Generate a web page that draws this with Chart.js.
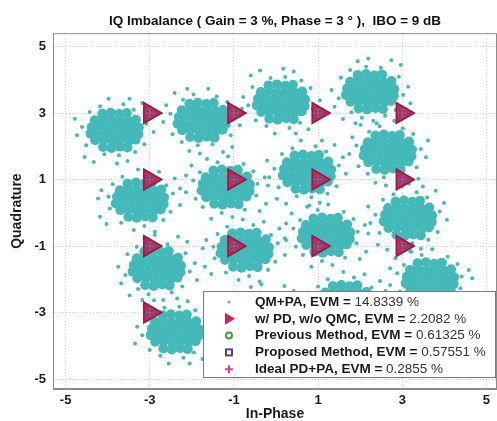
<!DOCTYPE html>
<html>
<head>
<meta charset="utf-8">
<script src="https://cdn.jsdelivr.net/npm/chart.js"></script>
<style>
  html, body { margin: 0; padding: 0; background: #fff; }
  #wrap { width: 497px; height: 421px; }
</style>
</head>
<body>
<div id="wrap"><canvas id="iq_chart" width="497" height="421"></canvas></div>
<script>
// tick positions shared by both axes
const tickValues = [-5, -3, -1, 1, 3, 5];

// ideal 16-QAM grid
const constellation = [
    [-3, 3], [-1, 3], [1, 3], [3, 3],
    [-3, 1], [-1, 1], [1, 1], [3, 1],
    [-3, -1], [-1, -1], [1, -1], [3, -1],
    [-3, -3], [-1, -3], [1, -3], [3, -3],
];

// QM+PA samples in the dense middle of each received cluster (one line per symbol)
const qmpaCore = [
    [-4.13,2.98],[-3.93,3.01],[-3.73,2.97],[-3.55,3.00],[-4.31,2.78],[-4.11,2.81],[-3.91,2.77],[-3.71,2.79],[-3.51,2.76],[-3.33,2.80],[-4.38,2.58],[-4.19,2.60],[-4.00,2.56],[-3.81,2.59],[-3.62,2.57],[-3.43,2.60],[-3.26,2.56],[-4.41,2.38],[-4.23,2.40],[-4.04,2.36],[-3.83,2.39],[-3.64,2.37],[-3.45,2.40],[-3.27,2.36],[-4.30,2.18],[-4.10,2.20],[-3.90,2.16],[-3.70,2.19],[-3.50,2.17],[-3.34,2.20],[-4.11,1.98],[-3.91,1.95],[-3.71,1.99],[-3.53,1.96],
    [-2.06,3.28],[-1.86,3.31],[-1.66,3.27],[-1.48,3.30],[-2.24,3.08],[-2.04,3.11],[-1.84,3.07],[-1.64,3.09],[-1.44,3.06],[-1.26,3.10],[-2.31,2.88],[-2.12,2.90],[-1.93,2.86],[-1.74,2.89],[-1.55,2.87],[-1.36,2.90],[-1.19,2.86],[-2.34,2.68],[-2.16,2.70],[-1.97,2.66],[-1.76,2.69],[-1.57,2.67],[-1.38,2.70],[-1.20,2.66],[-2.23,2.48],[-2.03,2.50],[-1.83,2.46],[-1.63,2.49],[-1.43,2.47],[-1.27,2.50],[-2.04,2.28],[-1.84,2.25],[-1.64,2.29],[-1.46,2.26],
    [-0.18,3.83],[0.02,3.86],[0.22,3.82],[0.40,3.85],[-0.36,3.63],[-0.16,3.66],[0.04,3.62],[0.24,3.64],[0.44,3.61],[0.62,3.65],[-0.43,3.43],[-0.24,3.45],[-0.05,3.41],[0.14,3.44],[0.33,3.42],[0.52,3.45],[0.69,3.41],[-0.46,3.23],[-0.28,3.25],[-0.09,3.21],[0.12,3.24],[0.31,3.22],[0.50,3.25],[0.68,3.21],[-0.35,3.03],[-0.15,3.05],[0.05,3.01],[0.25,3.04],[0.45,3.02],[0.61,3.05],[-0.16,2.83],[0.04,2.80],[0.24,2.84],[0.42,2.81],
    [1.94,4.14],[2.14,4.17],[2.34,4.13],[2.52,4.16],[1.76,3.94],[1.96,3.97],[2.16,3.93],[2.36,3.95],[2.56,3.92],[2.74,3.96],[1.69,3.74],[1.88,3.76],[2.07,3.72],[2.26,3.75],[2.45,3.73],[2.64,3.76],[2.81,3.72],[1.66,3.54],[1.84,3.56],[2.03,3.52],[2.24,3.55],[2.43,3.53],[2.62,3.56],[2.80,3.52],[1.77,3.34],[1.97,3.36],[2.17,3.32],[2.37,3.35],[2.57,3.33],[2.73,3.36],[1.96,3.14],[2.16,3.11],[2.36,3.15],[2.54,3.12],
    [-3.53,0.88],[-3.33,0.91],[-3.13,0.87],[-2.95,0.90],[-3.71,0.68],[-3.51,0.71],[-3.31,0.67],[-3.11,0.69],[-2.91,0.66],[-2.73,0.70],[-3.78,0.48],[-3.59,0.50],[-3.40,0.46],[-3.21,0.49],[-3.02,0.47],[-2.83,0.50],[-2.66,0.46],[-3.81,0.28],[-3.63,0.30],[-3.44,0.26],[-3.23,0.29],[-3.04,0.27],[-2.85,0.30],[-2.67,0.26],[-3.70,0.08],[-3.50,0.10],[-3.30,0.06],[-3.10,0.09],[-2.90,0.07],[-2.74,0.10],[-3.51,-0.12],[-3.31,-0.15],[-3.11,-0.11],[-2.93,-0.14],
    [-1.49,1.27],[-1.29,1.30],[-1.09,1.26],[-0.91,1.29],[-1.67,1.07],[-1.47,1.10],[-1.27,1.06],[-1.07,1.08],[-0.87,1.05],[-0.69,1.09],[-1.74,0.87],[-1.55,0.89],[-1.36,0.85],[-1.17,0.88],[-0.98,0.86],[-0.79,0.89],[-0.62,0.85],[-1.77,0.67],[-1.59,0.69],[-1.40,0.65],[-1.19,0.68],[-1.00,0.66],[-0.81,0.69],[-0.63,0.65],[-1.66,0.47],[-1.46,0.49],[-1.26,0.45],[-1.06,0.48],[-0.86,0.46],[-0.70,0.49],[-1.47,0.27],[-1.27,0.24],[-1.07,0.28],[-0.89,0.25],
    [0.44,1.72],[0.64,1.75],[0.84,1.71],[1.02,1.74],[0.26,1.52],[0.46,1.55],[0.66,1.51],[0.86,1.53],[1.06,1.50],[1.24,1.54],[0.19,1.32],[0.38,1.34],[0.57,1.30],[0.76,1.33],[0.95,1.31],[1.14,1.34],[1.31,1.30],[0.16,1.12],[0.34,1.14],[0.53,1.10],[0.74,1.13],[0.93,1.11],[1.12,1.14],[1.30,1.10],[0.27,0.92],[0.47,0.94],[0.67,0.90],[0.87,0.93],[1.07,0.91],[1.23,0.94],[0.46,0.72],[0.66,0.69],[0.86,0.73],[1.04,0.70],
    [2.36,2.32],[2.56,2.35],[2.76,2.31],[2.94,2.34],[2.18,2.12],[2.38,2.15],[2.58,2.11],[2.78,2.13],[2.98,2.10],[3.16,2.14],[2.11,1.92],[2.30,1.94],[2.49,1.90],[2.68,1.93],[2.87,1.91],[3.06,1.94],[3.23,1.90],[2.08,1.72],[2.26,1.74],[2.45,1.70],[2.66,1.73],[2.85,1.71],[3.04,1.74],[3.22,1.70],[2.19,1.52],[2.39,1.54],[2.59,1.50],[2.79,1.53],[2.99,1.51],[3.15,1.54],[2.38,1.32],[2.58,1.29],[2.78,1.33],[2.96,1.30],
    [-3.13,-1.17],[-2.93,-1.14],[-2.73,-1.18],[-2.55,-1.15],[-3.31,-1.37],[-3.11,-1.34],[-2.91,-1.38],[-2.71,-1.36],[-2.51,-1.39],[-2.33,-1.35],[-3.38,-1.57],[-3.19,-1.55],[-3.00,-1.59],[-2.81,-1.56],[-2.62,-1.58],[-2.43,-1.55],[-2.26,-1.59],[-3.41,-1.77],[-3.23,-1.75],[-3.04,-1.79],[-2.83,-1.76],[-2.64,-1.78],[-2.45,-1.75],[-2.27,-1.79],[-3.30,-1.97],[-3.10,-1.95],[-2.90,-1.99],[-2.70,-1.96],[-2.50,-1.98],[-2.34,-1.95],[-3.11,-2.17],[-2.91,-2.20],[-2.71,-2.16],[-2.53,-2.19],
    [-1.04,-0.62],[-0.84,-0.59],[-0.64,-0.63],[-0.46,-0.60],[-1.22,-0.82],[-1.02,-0.79],[-0.82,-0.83],[-0.62,-0.81],[-0.42,-0.84],[-0.24,-0.80],[-1.29,-1.02],[-1.10,-1.00],[-0.91,-1.04],[-0.72,-1.01],[-0.53,-1.03],[-0.34,-1.00],[-0.17,-1.04],[-1.32,-1.22],[-1.14,-1.20],[-0.95,-1.24],[-0.74,-1.21],[-0.55,-1.23],[-0.36,-1.20],[-0.18,-1.24],[-1.21,-1.42],[-1.01,-1.40],[-0.81,-1.44],[-0.61,-1.41],[-0.41,-1.43],[-0.25,-1.40],[-1.02,-1.62],[-0.82,-1.65],[-0.62,-1.61],[-0.44,-1.64],
    [0.89,-0.17],[1.09,-0.14],[1.29,-0.18],[1.47,-0.15],[0.71,-0.37],[0.91,-0.34],[1.11,-0.38],[1.31,-0.36],[1.51,-0.39],[1.69,-0.35],[0.64,-0.57],[0.83,-0.55],[1.02,-0.59],[1.21,-0.56],[1.40,-0.58],[1.59,-0.55],[1.76,-0.59],[0.61,-0.77],[0.79,-0.75],[0.98,-0.79],[1.19,-0.76],[1.38,-0.78],[1.57,-0.75],[1.75,-0.79],[0.72,-0.97],[0.92,-0.95],[1.12,-0.99],[1.32,-0.96],[1.52,-0.98],[1.68,-0.95],[0.91,-1.17],[1.11,-1.20],[1.31,-1.16],[1.49,-1.19],
    [2.84,0.34],[3.04,0.37],[3.24,0.33],[3.42,0.36],[2.66,0.14],[2.86,0.17],[3.06,0.13],[3.26,0.15],[3.46,0.12],[3.64,0.16],[2.59,-0.06],[2.78,-0.04],[2.97,-0.08],[3.16,-0.05],[3.35,-0.07],[3.54,-0.04],[3.71,-0.08],[2.56,-0.26],[2.74,-0.24],[2.93,-0.28],[3.14,-0.25],[3.33,-0.27],[3.52,-0.24],[3.70,-0.28],[2.67,-0.46],[2.87,-0.44],[3.07,-0.48],[3.27,-0.45],[3.47,-0.47],[3.63,-0.44],[2.86,-0.66],[3.06,-0.69],[3.26,-0.65],[3.44,-0.68],
    [-2.70,-3.08],[-2.50,-3.05],[-2.30,-3.09],[-2.12,-3.06],[-2.88,-3.28],[-2.68,-3.25],[-2.48,-3.29],[-2.28,-3.27],[-2.08,-3.30],[-1.90,-3.26],[-2.95,-3.48],[-2.76,-3.46],[-2.57,-3.50],[-2.38,-3.47],[-2.19,-3.49],[-2.00,-3.46],[-1.83,-3.50],[-2.98,-3.68],[-2.80,-3.66],[-2.61,-3.70],[-2.40,-3.67],[-2.21,-3.69],[-2.02,-3.66],[-1.84,-3.70],[-2.87,-3.88],[-2.67,-3.86],[-2.47,-3.90],[-2.27,-3.87],[-2.07,-3.89],[-1.91,-3.86],[-2.68,-4.08],[-2.48,-4.11],[-2.28,-4.07],[-2.10,-4.10],
    [-0.60,-2.65],[-0.40,-2.62],[-0.20,-2.66],[-0.02,-2.63],[-0.78,-2.85],[-0.58,-2.82],[-0.38,-2.86],[-0.18,-2.84],[0.02,-2.87],[0.20,-2.83],[-0.85,-3.05],[-0.66,-3.03],[-0.47,-3.07],[-0.28,-3.04],[-0.09,-3.06],[0.10,-3.03],[0.27,-3.07],[-0.88,-3.25],[-0.70,-3.23],[-0.51,-3.27],[-0.30,-3.24],[-0.11,-3.26],[0.08,-3.23],[0.26,-3.27],[-0.77,-3.45],[-0.57,-3.43],[-0.37,-3.47],[-0.17,-3.44],[0.03,-3.46],[0.19,-3.43],[-0.58,-3.65],[-0.38,-3.68],[-0.18,-3.64],[0.00,-3.67],
    [1.35,-2.20],[1.55,-2.17],[1.75,-2.21],[1.93,-2.18],[1.17,-2.40],[1.37,-2.37],[1.57,-2.41],[1.77,-2.39],[1.97,-2.42],[2.15,-2.38],[1.10,-2.60],[1.29,-2.58],[1.48,-2.62],[1.67,-2.59],[1.86,-2.61],[2.05,-2.58],[2.22,-2.62],[1.07,-2.80],[1.25,-2.78],[1.44,-2.82],[1.65,-2.79],[1.84,-2.81],[2.03,-2.78],[2.21,-2.82],[1.18,-3.00],[1.38,-2.98],[1.58,-3.02],[1.78,-2.99],[1.98,-3.01],[2.14,-2.98],[1.37,-3.20],[1.57,-3.23],[1.77,-3.19],[1.95,-3.22],
    [3.36,-1.52],[3.56,-1.49],[3.76,-1.53],[3.94,-1.50],[3.18,-1.72],[3.38,-1.69],[3.58,-1.73],[3.78,-1.71],[3.98,-1.74],[4.16,-1.70],[3.11,-1.92],[3.30,-1.90],[3.49,-1.94],[3.68,-1.91],[3.87,-1.93],[4.06,-1.90],[4.23,-1.94],[3.08,-2.12],[3.26,-2.10],[3.45,-2.14],[3.66,-2.11],[3.85,-2.13],[4.04,-2.10],[4.22,-2.14],[3.19,-2.32],[3.39,-2.30],[3.59,-2.34],[3.79,-2.31],[3.99,-2.33],[4.15,-2.30],[3.38,-2.52],[3.58,-2.55],[3.78,-2.51],[3.96,-2.54],
];

// QM+PA samples scattered around the edge of each cluster
const qmpaFringe = [
    [-3.08,2.68],[-4.61,2.58],[-3.13,2.06],[-4.51,2.03],[-3.63,3.26],[-4.18,3.20],[-3.38,3.10],[-4.43,3.03],[-3.73,1.73],[-4.08,1.76],[-3.35,1.83],[-4.73,2.33],[-2.91,2.43],[-3.48,3.43],[-3.98,3.43],[-3.18,3.30],[-4.55,1.68],[-3.78,1.48],[-2.98,2.93],[-4.78,2.83],[-3.53,1.56],[-4.33,1.53],
    [-2.51,2.98],[-0.98,2.88],[-2.46,2.36],[-1.08,2.33],[-1.96,3.56],[-1.41,3.50],[-2.21,3.40],[-1.16,3.33],[-1.86,2.03],[-1.51,2.06],[-2.24,2.13],[-0.86,2.63],[-2.68,2.73],[-2.11,3.73],[-1.61,3.73],[-2.41,3.60],[-1.04,1.98],[-1.81,1.78],[-2.61,3.23],[-0.81,3.13],[-2.06,1.86],[-1.26,1.83],
    [0.87,3.13],[-0.66,3.23],[0.82,3.75],[-0.56,3.78],[0.32,2.55],[-0.23,2.61],[0.57,2.71],[-0.48,2.78],[0.22,4.08],[-0.13,4.05],[0.60,3.98],[-0.78,3.48],[1.04,3.38],[0.47,2.38],[-0.03,2.38],[0.77,2.51],[-0.60,4.13],[0.17,4.33],[0.97,2.88],[-0.83,2.98],[0.42,4.25],[-0.38,4.28],
    [1.49,3.44],[3.02,3.54],[1.54,4.06],[2.92,4.09],[2.04,2.86],[2.59,2.92],[1.79,3.02],[2.84,3.09],[2.14,4.39],[2.49,4.36],[1.76,4.29],[3.14,3.79],[1.32,3.69],[1.89,2.69],[2.39,2.69],[1.59,2.82],[2.96,4.44],[2.19,4.64],[1.39,3.19],[3.19,3.29],[1.94,4.56],[2.74,4.59],
    [-3.03,1.13],[-3.13,-0.40],[-3.65,1.08],[-3.68,-0.30],[-2.45,0.58],[-2.51,0.03],[-2.61,0.83],[-2.68,-0.22],[-3.98,0.48],[-3.95,0.13],[-3.88,0.86],[-3.38,-0.52],[-3.28,1.30],[-2.28,0.73],[-2.28,0.23],[-2.41,1.03],[-4.03,-0.34],[-4.23,0.43],[-2.78,1.23],[-2.88,-0.57],[-4.15,0.68],[-4.18,-0.12],
    [-1.39,1.52],[-1.29,-0.01],[-0.77,1.47],[-0.74,0.09],[-1.97,0.97],[-1.91,0.42],[-1.81,1.22],[-1.74,0.17],[-0.44,0.87],[-0.47,0.52],[-0.54,1.25],[-1.04,-0.13],[-1.14,1.69],[-2.14,1.12],[-2.14,0.62],[-2.01,1.42],[-0.39,0.05],[-0.19,0.82],[-1.64,1.62],[-1.54,-0.18],[-0.27,1.07],[-0.24,0.27],
    [1.49,1.42],[-0.04,1.32],[1.44,0.80],[0.06,0.77],[0.94,2.00],[0.39,1.94],[1.19,1.84],[0.14,1.77],[0.84,0.47],[0.49,0.50],[1.22,0.57],[-0.16,1.07],[1.66,1.17],[1.09,2.17],[0.59,2.17],[1.39,2.04],[0.02,0.42],[0.79,0.22],[1.59,1.67],[-0.21,1.57],[1.04,0.30],[0.24,0.27],
    [1.91,2.02],[3.44,1.92],[1.96,1.40],[3.34,1.37],[2.46,2.60],[3.01,2.54],[2.21,2.44],[3.26,2.37],[2.56,1.07],[2.91,1.10],[2.18,1.17],[3.56,1.67],[1.74,1.77],[2.31,2.77],[2.81,2.77],[2.01,2.64],[3.38,1.02],[2.61,0.82],[1.81,2.27],[3.61,2.17],[2.36,0.90],[3.16,0.87],
    [-3.58,-1.87],[-2.05,-1.77],[-3.53,-1.25],[-2.15,-1.22],[-3.03,-2.45],[-2.48,-2.39],[-3.28,-2.29],[-2.23,-2.22],[-2.93,-0.92],[-2.58,-0.95],[-3.31,-1.02],[-1.93,-1.52],[-3.75,-1.62],[-3.18,-2.62],[-2.68,-2.62],[-3.48,-2.49],[-2.11,-0.87],[-2.88,-0.67],[-3.68,-2.12],[-1.88,-2.02],[-3.13,-0.75],[-2.33,-0.72],
    [-0.54,-0.37],[-0.64,-1.90],[-1.16,-0.42],[-1.19,-1.80],[0.04,-0.92],[-0.02,-1.47],[-0.12,-0.67],[-0.19,-1.72],[-1.49,-1.02],[-1.46,-1.37],[-1.39,-0.64],[-0.89,-2.02],[-0.79,-0.20],[0.21,-0.77],[0.21,-1.27],[0.08,-0.47],[-1.54,-1.84],[-1.74,-1.07],[-0.29,-0.27],[-0.39,-2.07],[-1.66,-0.82],[-1.69,-1.62],
    [0.99,0.08],[1.09,-1.45],[1.61,0.03],[1.64,-1.35],[0.41,-0.47],[0.47,-1.02],[0.57,-0.22],[0.64,-1.27],[1.94,-0.57],[1.91,-0.92],[1.84,-0.19],[1.34,-1.57],[1.24,0.25],[0.24,-0.32],[0.24,-0.82],[0.37,-0.02],[1.99,-1.39],[2.19,-0.62],[0.74,0.18],[0.84,-1.62],[2.11,-0.37],[2.14,-1.17],
    [3.89,0.04],[2.36,-0.06],[3.84,-0.58],[2.46,-0.61],[3.34,0.62],[2.79,0.56],[3.59,0.46],[2.54,0.39],[3.24,-0.91],[2.89,-0.88],[3.62,-0.81],[2.24,-0.31],[4.06,-0.21],[3.49,0.79],[2.99,0.79],[3.79,0.66],[2.42,-0.96],[3.19,-1.16],[3.99,0.29],[2.19,0.19],[3.44,-1.08],[2.64,-1.11],
    [-1.65,-3.78],[-3.18,-3.68],[-1.70,-3.16],[-3.08,-3.13],[-2.20,-4.36],[-2.75,-4.30],[-1.95,-4.20],[-3.00,-4.13],[-2.30,-2.83],[-2.65,-2.86],[-1.92,-2.93],[-3.30,-3.43],[-1.48,-3.53],[-2.05,-4.53],[-2.55,-4.53],[-1.75,-4.40],[-3.12,-2.78],[-2.35,-2.58],[-1.55,-4.03],[-3.35,-3.93],[-2.10,-2.66],[-2.90,-2.63],
    [-1.05,-3.35],[0.48,-3.25],[-1.00,-2.73],[0.38,-2.70],[-0.50,-3.93],[0.05,-3.87],[-0.75,-3.77],[0.30,-3.70],[-0.40,-2.40],[-0.05,-2.43],[-0.78,-2.50],[0.60,-3.00],[-1.22,-3.10],[-0.65,-4.10],[-0.15,-4.10],[-0.95,-3.97],[0.42,-2.35],[-0.35,-2.15],[-1.15,-3.60],[0.65,-3.50],[-0.60,-2.23],[0.20,-2.20],
    [1.85,-1.95],[1.75,-3.48],[1.23,-2.00],[1.20,-3.38],[2.43,-2.50],[2.37,-3.05],[2.27,-2.25],[2.20,-3.30],[0.90,-2.60],[0.93,-2.95],[1.00,-2.22],[1.50,-3.60],[1.60,-1.78],[2.60,-2.35],[2.60,-2.85],[2.47,-2.05],[0.85,-3.42],[0.65,-2.65],[2.10,-1.85],[2.00,-3.65],[0.73,-2.40],[0.70,-3.20],
    [3.46,-1.27],[3.56,-2.80],[4.08,-1.32],[4.11,-2.70],[2.88,-1.82],[2.94,-2.37],[3.04,-1.57],[3.11,-2.62],[4.41,-1.92],[4.38,-2.27],[4.31,-1.54],[3.81,-2.92],[3.71,-1.10],[2.71,-1.67],[2.71,-2.17],[2.84,-1.37],[4.46,-2.74],[4.66,-1.97],[3.21,-1.17],[3.31,-2.97],[4.58,-1.72],[4.61,-2.52],
];

const legendNames = [
    "QM+PA, EVM = ",
    "w/ PD, w/o QMC, EVM = ",
    "Previous Method, EVM = ",
    "Proposed Method, EVM = ",
    "Ideal PD+PA, EVM = ",
];
const legendEvm = ["14.8339 %", "2.2082 %", "0.61325 %", "0.57551 %", "0.2855 %"];

const FONT = '"Liberation Sans", Arial, Helvetica, sans-serif';
const CYAN = "#44b9b9";
const CRIMSON = "#c4255c";
const GREEN = "#3a9e3a";
const PURPLE = "#5e3f94";
const PINK = "#d2409e";

const toXY = (pts) => pts.map(([x, y]) => ({ x, y }));

function drawLegendMarker(ctx, kind, x, y) {
    ctx.save();
    ctx.lineWidth = 2;
    if (kind === 0) {
        ctx.fillStyle = CYAN;
        ctx.beginPath();
        ctx.arc(x, y, 1.5, 0, Math.PI * 2);
        ctx.fill();
    } else if (kind === 1) {
        ctx.fillStyle = CRIMSON;
        ctx.beginPath();
        ctx.moveTo(x + 6, y);
        ctx.lineTo(x - 4, y - 6);
        ctx.lineTo(x - 4, y + 6);
        ctx.closePath();
        ctx.fill();
    } else if (kind === 2) {
        ctx.strokeStyle = GREEN;
        ctx.beginPath();
        ctx.arc(x, y, 3, 0, Math.PI * 2);
        ctx.stroke();
    } else if (kind === 3) {
        ctx.strokeStyle = PURPLE;
        ctx.strokeRect(x - 3, y - 3, 6, 6);
    } else {
        ctx.strokeStyle = PINK;
        ctx.beginPath();
        ctx.moveTo(x - 4, y); ctx.lineTo(x + 4, y);
        ctx.moveTo(x, y - 4); ctx.lineTo(x, y + 4);
        ctx.stroke();
    }
    ctx.restore();
}

// frame around the plot and the legend box in the lower right
const frameAndLegend = {
    id: "frameAndLegend",
    afterDraw(chart) {
        const { ctx, chartArea: a } = chart;
        ctx.save();
        ctx.strokeStyle = "#8c8c8c";
        ctx.lineWidth = 1;
        ctx.strokeRect(a.left + 0.5, a.top + 0.5, a.right - a.left - 1, a.bottom - a.top - 1);

        const bx = a.right - 294, by = a.bottom - 98, bw = 292, bh = 86;
        ctx.fillStyle = "#fff";
        ctx.fillRect(bx, by, bw, bh);
        ctx.strokeStyle = "#7a7a7a";
        ctx.strokeRect(bx + 0.5, by + 0.5, bw, bh);

        ctx.textBaseline = "middle";
        ctx.textAlign = "left";
        legendNames.forEach((name, i) => {
            const y = by + 11 + i * 16.8;
            drawLegendMarker(ctx, i, bx + 26, y);
            ctx.font = "bold 13.5px " + FONT;
            ctx.fillStyle = "#1a1a1a";
            ctx.fillText(name, bx + 52, y);
            const w = ctx.measureText(name).width;
            ctx.font = "13.5px " + FONT;
            ctx.fillStyle = "#333";
            ctx.fillText(legendEvm[i], bx + 52 + w, y);
        });
        ctx.restore();
    },
};

const axisCommon = {
    type: "linear",
    afterBuildTicks: (scale) => { scale.ticks = tickValues.map((v) => ({ value: v })); },
    grid: { color: "#cdcdcd", lineWidth: 1, drawTicks: false },
    border: { display: true, color: "#8c8c8c", dash: [1, 2] },
    ticks: { color: "#1a1a1a", font: { size: 13, weight: "bold", family: FONT } },
};

new Chart(document.getElementById("iq_chart"), {
    type: "scatter",
    data: {
        datasets: [
            {
                label: "QM+PA",
                data: toXY(qmpaCore),
                pointStyle: "circle",
                pointRadius: 5,
                borderWidth: 0,
                backgroundColor: CYAN,
                order: 6,
            },
            {
                label: "QM+PA",
                data: toXY(qmpaFringe),
                pointStyle: "circle",
                pointRadius: 2,
                borderWidth: 0,
                backgroundColor: CYAN,
                order: 5,
            },
            {
                label: "w/ PD, w/o QMC",
                data: toXY(constellation),
                pointStyle: "triangle",
                rotation: 90,
                pointRadius: 12,
                backgroundColor: CRIMSON,
                borderColor: "#961a46",
                borderWidth: 1.5,
                order: 4,
            },
            {
                label: "Previous Method",
                data: toXY(constellation),
                pointStyle: "circle",
                pointRadius: 3.5,
                backgroundColor: "rgba(0,0,0,0)",
                borderColor: GREEN,
                borderWidth: 1.2,
                order: 3,
            },
            {
                label: "Proposed Method",
                data: toXY(constellation),
                pointStyle: "rect",
                pointRadius: 3.5,
                backgroundColor: "rgba(0,0,0,0)",
                borderColor: PURPLE,
                borderWidth: 1.2,
                order: 2,
            },
            {
                label: "Ideal PD+PA",
                data: toXY(constellation),
                pointStyle: "cross",
                pointRadius: 3.5,
                borderColor: PINK,
                borderWidth: 1.2,
                order: 1,
            },
        ],
    },
    options: {
        responsive: false,
        animation: false,
        events: [],
        devicePixelRatio: 1,
        layout: { padding: 0, autoPadding: false },
        plugins: {
            legend: { display: false },
            tooltip: { enabled: false },
            title: {
                display: true,
                fullSize: false,
                text: "IQ Imbalance ( Gain = 3 %, Phase = 3 \u00b0 ),  IBO = 9 dB",
                color: "#111",
                font: { size: 13.5, weight: "bold", family: FONT },
                padding: { top: 13, bottom: 4 },
            },
        },
        scales: {
            x: {
                ...axisCommon,
                min: -5.3,
                max: 5.25,
                afterFit: (scale) => {
                    scale.height = 32;
                    scale.paddingLeft = 0;
                    scale.paddingRight = 0;
                },
                ticks: { ...axisCommon.ticks, padding: 4 },
                title: {
                    display: true, text: "In-Phase", color: "#1a1a1a",
                    font: { size: 14, weight: "bold", family: FONT }, padding: { top: 0, bottom: -2 },
                },
            },
            y: {
                ...axisCommon,
                min: -5.3,
                max: 5.4,
                afterFit: (scale) => {
                    scale.width = 53;
                    scale.paddingTop = 0;
                    scale.paddingBottom = 0;
                },
                ticks: { ...axisCommon.ticks, padding: 7 },
                title: {
                    display: true, text: "Quadrature", color: "#1a1a1a",
                    font: { size: 14, weight: "bold", family: FONT }, padding: { top: 9, bottom: 0 },
                },
            },
        },
    },
    plugins: [frameAndLegend],
});
</script>
</body>
</html>
